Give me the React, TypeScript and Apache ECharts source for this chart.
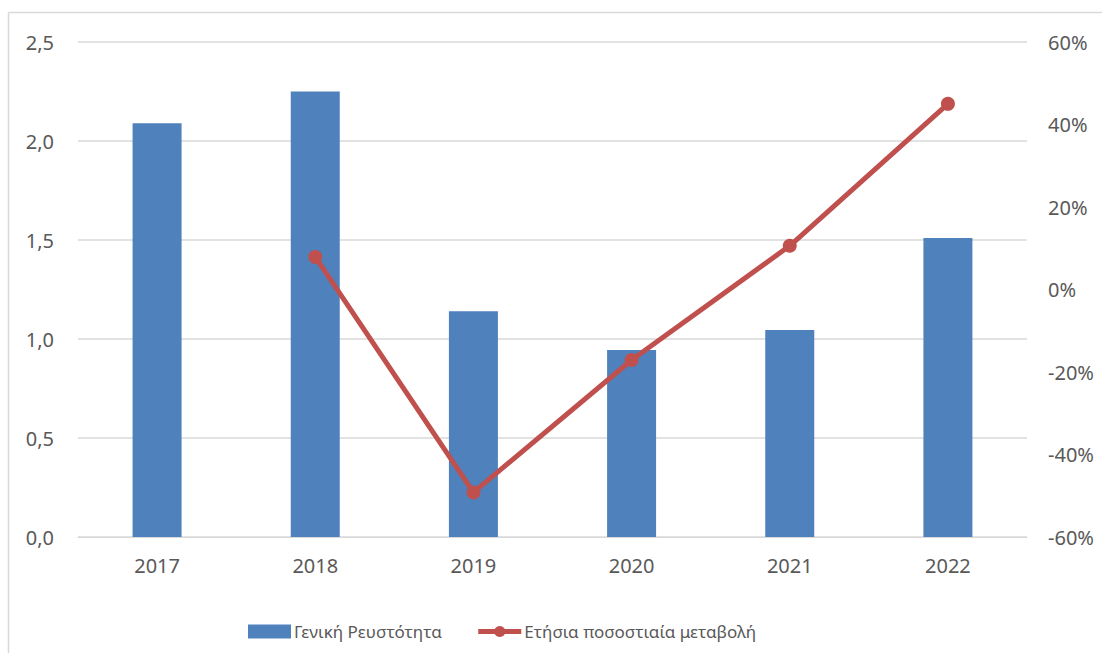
import React, { useEffect, useRef } from "react";
import * as echarts from "echarts";

const years = ["2017", "2018", "2019", "2020", "2021", "2022"];
const liquidity = [2.09, 2.25, 1.14, 0.945, 1.045, 1.51];
const yearlyChange = [null, 7.9, -49.2, -17.1, 10.6, 45];
const barName = "Γενική Ρευστότητα";
const lineName = "Ετήσια ποσοστιαία μεταβολή";

const FONT = "Noto Sans";
const TEXT = "#595959";
const GRID = "#d9d9d9";
const BAR = "#4F81BD";
const LINE = "#C0504D";

export default function App() {
  const ref = useRef<HTMLDivElement>(null);

  useEffect(() => {
    if (!ref.current) return;
    const chart = echarts.init(ref.current, null, { renderer: "svg" });
    chart.setOption({
      animation: false,
      textStyle: { fontFamily: FONT },
      graphic: [
        { type: "line", shape: { x1: 8.5, y1: 12.5, x2: 1102, y2: 12.5 }, style: { stroke: GRID, lineWidth: 1.5 } },
        { type: "line", shape: { x1: 8.5, y1: 12.5, x2: 8.5, y2: 653 }, style: { stroke: GRID, lineWidth: 1.5 } },
      ],
      grid: { left: 78, right: 75, top: 42, bottom: 116 },
      legend: {
        top: 618,
        left: 243,
        itemWidth: 43,
        itemHeight: 14,
        itemGap: 34,
        textStyle: { color: TEXT, fontSize: 17, fontFamily: FONT, padding: [0, 0, 0, -2] },
        data: [
          { name: barName, icon: "rect" },
          { name: lineName, lineStyle: { width: 5, color: LINE }, itemStyle: { color: LINE } },
        ],
      },
      xAxis: {
        type: "category",
        data: years,
        axisLine: { lineStyle: { color: GRID } },
        axisTick: { show: false },
        axisLabel: { color: TEXT, fontSize: 20, margin: 18 },
      },
      yAxis: [
        {
          type: "value",
          min: 0,
          max: 2.5,
          interval: 0.5,
          axisLine: { show: false },
          axisTick: { show: false },
          splitLine: { lineStyle: { color: GRID, width: 1.5 } },
          axisLabel: {
            color: TEXT,
            fontSize: 20,
            margin: 24,
            formatter: (v: number) => v.toFixed(1).replace(".", ","),
          },
        },
        {
          type: "value",
          min: -60,
          max: 60,
          interval: 20,
          position: "right",
          axisLine: { show: false },
          axisTick: { show: false },
          splitLine: { show: false },
          axisLabel: {
            color: TEXT,
            fontSize: 20,
            margin: 21,
            formatter: (v: number) => `${v}%`,
          },
        },
      ],
      series: [
        {
          name: barName,
          type: "bar",
          data: liquidity,
          barWidth: 49,
          itemStyle: { color: BAR },
        },
        {
          name: lineName,
          type: "line",
          yAxisIndex: 1,
          data: yearlyChange,
          connectNulls: false,
          symbol: "circle",
          symbolSize: 14,
          lineStyle: { color: LINE, width: 5 },
          itemStyle: { color: LINE },
        },
      ],
    });
    return () => chart.dispose();
  }, []);

  return (
    <div
      ref={ref}
      style={{ position: "fixed", left: 0, top: 0, width: 1102, height: 653, background: "#fff" }}
    />
  );
}
